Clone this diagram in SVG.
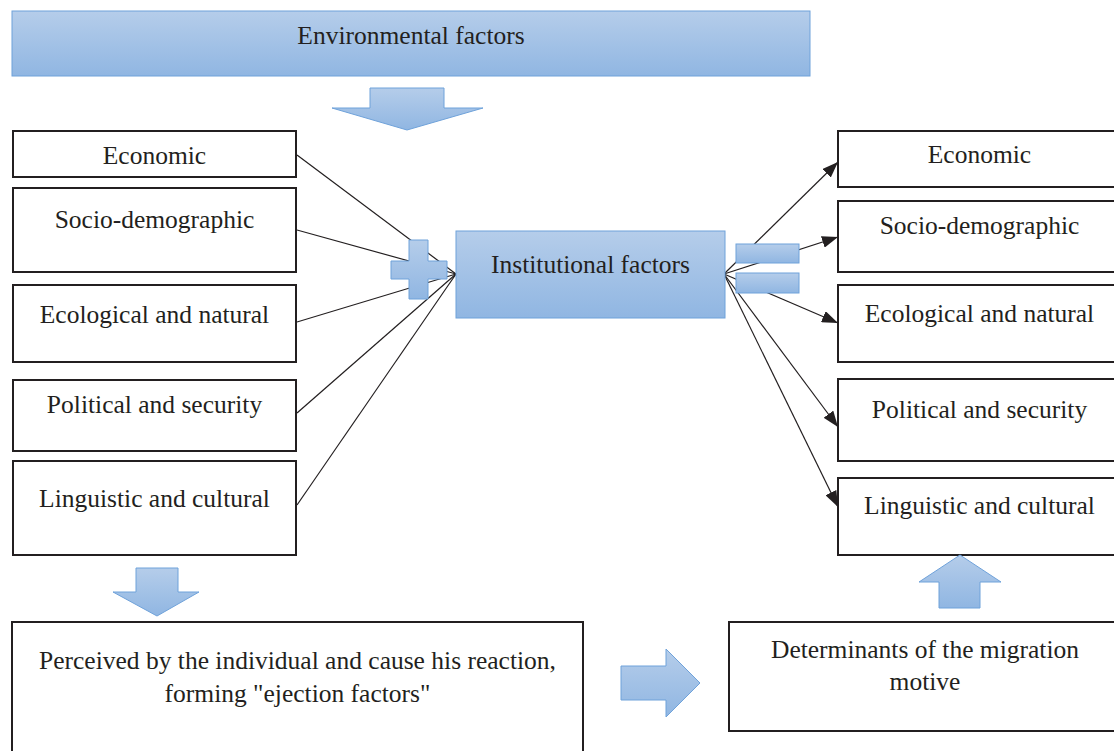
<svg xmlns="http://www.w3.org/2000/svg" width="1114" height="751" viewBox="0 0 1114 751">
<defs>
<linearGradient id="blue" x1="0" y1="0" x2="0" y2="1">
<stop offset="0" stop-color="#b5cdea"/>
<stop offset="1" stop-color="#90b6e2"/>
</linearGradient>
<marker id="ah" viewBox="0 0 16 12" refX="16" refY="6" markerWidth="16" markerHeight="12" markerUnits="userSpaceOnUse" orient="auto">
<path d="M0,0 L16,6 L0,12 Z" fill="#231f20"/>
</marker>
<style>
.blue{fill:url(#blue);stroke:#6fa2da;stroke-width:1}
.box{fill:#fff;stroke:#231f20;stroke-width:2}
.t{font-size:25.5px;fill:#231f20;text-anchor:middle}
.ln{stroke:#231f20;stroke-width:1.2;fill:none}
</style>
</defs>
<rect width="1114" height="751" fill="#fff"/>
<g font-family="'Liberation Serif', 'Times New Roman', Times, serif">
<g id="environmental">
<rect class="blue" x="12" y="11" width="798" height="65"/>
<text class="t" x="411" y="44">Environmental factors</text>
</g>
<g id="arrow-down-top">
<path class="blue" d="M370,88 H444 V108 H483 L407,130 L332,108 H370 Z"/>
</g>

<g id="l-economic"><rect class="box" x="13" y="131" width="283" height="46"/><text class="t" x="154.5" y="164">Economic</text></g>
<g id="l-socio"><rect class="box" x="13" y="188" width="283" height="84"/><text class="t" x="154.5" y="228">Socio-demographic</text></g>
<g id="l-ecological"><rect class="box" x="13" y="285" width="283" height="77"/><text class="t" x="154.5" y="323">Ecological and natural</text></g>
<g id="l-political"><rect class="box" x="13" y="380" width="283" height="71"/><text class="t" x="154.5" y="413">Political and security</text></g>
<g id="l-linguistic"><rect class="box" x="13" y="461" width="283" height="94"/><text class="t" x="154.5" y="507">Linguistic and cultural</text></g>

<g id="r-economic"><rect class="box" x="838" y="131" width="283" height="56"/><text class="t" x="979.5" y="163">Economic</text></g>
<g id="r-socio"><rect class="box" x="838" y="201" width="283" height="71"/><text class="t" x="979.5" y="234">Socio-demographic</text></g>
<g id="r-ecological"><rect class="box" x="838" y="285" width="283" height="77"/><text class="t" x="979.5" y="322">Ecological and natural</text></g>
<g id="r-political"><rect class="box" x="838" y="379" width="283" height="82"/><text class="t" x="979.5" y="418">Political and security</text></g>
<g id="r-linguistic"><rect class="box" x="838" y="478" width="283" height="77"/><text class="t" x="979.5" y="514">Linguistic and cultural</text></g>

<g id="connectors">
<line class="ln" x1="297" y1="155" x2="456" y2="274"/>
<line class="ln" x1="297" y1="230" x2="456" y2="274"/>
<line class="ln" x1="297" y1="322" x2="456" y2="274"/>
<line class="ln" x1="297" y1="413" x2="456" y2="274"/>
<line class="ln" x1="297" y1="505" x2="456" y2="274"/>
<line class="ln" x1="724" y1="274" x2="838" y2="162" marker-end="url(#ah)"/>
<line class="ln" x1="724" y1="274" x2="838" y2="237" marker-end="url(#ah)"/>
<line class="ln" x1="724" y1="274" x2="838" y2="323" marker-end="url(#ah)"/>
<line class="ln" x1="724" y1="274" x2="838" y2="427" marker-end="url(#ah)"/>
<line class="ln" x1="724" y1="274" x2="838" y2="507" marker-end="url(#ah)"/>
</g>

<g id="plus">
<path class="blue" d="M409,240 H428 V261 H447 V279 H428 V299 H409 V279 H391 V261 H409 Z"/>
</g>
<g id="equals">
<rect class="blue" x="736" y="244" width="63" height="19"/>
<rect class="blue" x="736" y="273" width="63" height="20"/>
</g>

<g id="institutional">
<rect class="blue" x="456" y="231" width="269" height="87"/>
<text class="t" x="590.5" y="273">Institutional factors</text>
</g>

<g id="arrow-down-left">
<path class="blue" d="M136,568 H178 V592 H199 L157,616 L113,592 H136 Z"/>
</g>

<g id="perceived">
<rect class="box" x="12" y="622" width="571" height="140"/>
<text class="t" x="297.5" y="669">Perceived by the individual and cause his reaction,</text>
<text class="t" x="297.5" y="702">forming "ejection factors"</text>
</g>

<g id="arrow-right">
<path class="blue" d="M621,666 H666 V649 L700,683 L666,717 V700 H621 Z"/>
</g>

<g id="determinants">
<rect class="box" x="729" y="622" width="392" height="109"/>
<text class="t" x="925" y="658">Determinants of the migration</text>
<text class="t" x="925" y="690">motive</text>
</g>

<g id="arrow-up">
<path class="blue" d="M939,608 V582 H919 L960,555 L1001,582 H980 V608 Z"/>
</g>
</g>
</svg>
